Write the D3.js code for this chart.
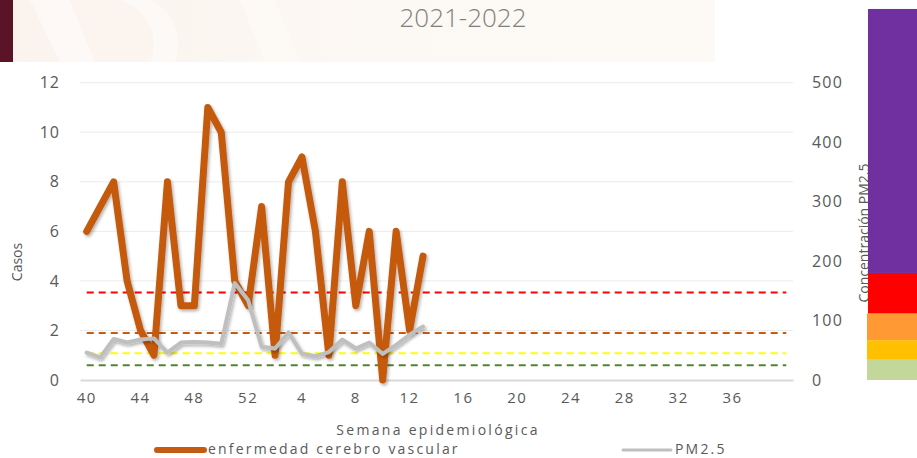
<!DOCTYPE html>
<html>
<head>
<meta charset="utf-8">
<script src="https://cdn.jsdelivr.net/npm/d3@7/dist/d3.min.js"></script>
<style>
  html, body { margin: 0; padding: 0; background: #ffffff; }
  svg { display: block; }
  text { font-family: "Open Sans", "Lato", sans-serif; fill: #595959; }
</style>
</head>
<body>
<svg id="chart" width="917" height="458"></svg>
<script>
// Epidemiological weeks of the 2021-2022 season (week 40 of 2021 onward)
const weeks = [40, 41, 42, 43, 44, 45, 46, 47, 48, 49, 50, 51, 52,
  1, 2, 3, 4, 5, 6, 7, 8, 9, 10, 11, 12, 13, 14, 15, 16, 17, 18, 19, 20,
  21, 22, 23, 24, 25, 26, 27, 28, 29, 30, 31, 32, 33, 34, 35, 36, 37, 38, 39, 40];
const tickWeeks = [40, 44, 48, 52, 4, 8, 12, 16, 20, 24, 28, 32, 36];

// Weekly cases of cerebrovascular disease (left axis)
const casos = [6, 7, 8, 4, 2, 1, 8, 3, 3, 11, 10, 4, 3,
  7, 1, 8, 9, 6, 1, 8, 3, 6, 0, 6, 2, 5];

// Weekly PM2.5 concentration (right axis)
const pm25 = [46, 38, 69, 63, 68, 70, 46, 63, 64, 63, 61, 163, 134,
  56, 53, 80, 44, 40, 47, 68, 53, 63, 44, 59, 76, 90];

// Air quality thresholds for PM2.5 (dashed reference lines)
const thresholdValues = [147, 79, 45, 25];
const thresholdColors = ["#FF0000", "#C55A11", "#FFFF00", "#548235"];

// Air quality colour scale drawn at the right edge
const bandTops = [34, 67, 112, 180, 624];
const bandColors = ["#C4D79B", "#FFC000", "#FF9933", "#FF0000", "#7030A0"];

const leftTicks = [0, 2, 4, 6, 8, 10, 12];
const rightTicks = [0, 100, 200, 300, 400, 500];

const svg = d3.select("#chart");

// Decorative header band
const defs = svg.append("defs");
const hg = defs.append("linearGradient").attr("id", "hdr").attr("x1", 0).attr("x2", 1);
hg.append("stop").attr("offset", 0).attr("stop-color", "#fbf3ee");
hg.append("stop").attr("offset", 0.5).attr("stop-color", "#fcf8f3");
hg.append("stop").attr("offset", 1).attr("stop-color", "#fdfaf6");
svg.append("rect").attr("x", 13).attr("y", 0).attr("width", 702).attr("height", 62).attr("fill", "url(#hdr)");
svg.append("path").attr("d", "M30,0 L70,0 L95,62 L60,62 Z").attr("fill", "#ffffff").attr("opacity", 0.45);
svg.append("path").attr("d", "M120,0 C150,10 160,40 150,62 L175,62 C185,35 170,8 150,0 Z").attr("fill", "#ffffff").attr("opacity", 0.4);
svg.append("path").attr("d", "M240,0 L275,0 L300,62 L265,62 Z").attr("fill", "#ffffff").attr("opacity", 0.35);
svg.append("rect").attr("x", 0).attr("y", 0).attr("width", 13).attr("height", 62).attr("fill", "#5b1427");

svg.append("text").attr("x", 463).attr("y", 27).attr("text-anchor", "middle")
  .style("font-size", "26px").style("font-weight", 300).style("fill", "#7f7f7f")
  .text("2021-2022");

// Scales
const x = d3.scaleBand().domain(d3.range(weeks.length)).range([80, 793]);
const cx = i => x(i) + x.bandwidth() / 2;
const yL = d3.scaleLinear().domain([0, 12]).range([380, 82.7]);
const yR = d3.scaleLinear().domain([0, 500]).range([380, 82.7]);

// Gridlines
svg.append("g").selectAll("line").data(leftTicks.filter(d => d > 0)).join("line")
  .attr("x1", 80).attr("x2", 793)
  .attr("y1", d => yL(d)).attr("y2", d => yL(d))
  .attr("stroke", "#ebebeb").attr("stroke-width", 1);

// Left axis
const gL = svg.append("g").attr("transform", "translate(60,0)")
  .call(d3.axisLeft(yL).tickValues(leftTicks).tickSize(0).tickPadding(0).tickFormat(d3.format("d")));
gL.select(".domain").remove();
gL.selectAll("text").style("font-size", "16px").style("letter-spacing", "1px")
  .attr("font-family", null).attr("fill", "#595959");

// Right axis
const gR = svg.append("g").attr("transform", "translate(812,0)")
  .call(d3.axisRight(yR).tickValues(rightTicks).tickSize(0).tickPadding(0).tickFormat(d3.format("d")));
gR.select(".domain").remove();
gR.selectAll("text").style("font-size", "16px").style("letter-spacing", "1.2px")
  .attr("font-family", null).attr("fill", "#595959");

// Bottom axis
const tickIdx = weeks.map((w, i) => i).filter(i => i % 4 === 0 && i < 52);
const gB = svg.append("g").attr("transform", "translate(0,380)")
  .call(d3.axisBottom(x).tickValues(tickIdx).tickSize(0).tickPadding(0)
    .tickFormat((d, k) => tickWeeks[k]));
gB.select(".domain").attr("stroke", "#d9d9d9").attr("stroke-width", 2);
gB.selectAll("text").attr("dy", "1.55em").style("font-size", "15px").style("letter-spacing", "1.5px")
  .attr("font-family", null).attr("fill", "#595959");

// Axis titles
svg.append("text").attr("transform", "translate(22,262) rotate(-90)").attr("text-anchor", "middle")
  .style("font-size", "14px").text("Casos");
svg.append("text").attr("transform", "translate(869,233) rotate(-90)").attr("text-anchor", "middle")
  .style("font-size", "14px").text("Concentración PM2.5");
svg.append("text").attr("x", 438).attr("y", 435).attr("text-anchor", "middle")
  .style("font-size", "14px").style("letter-spacing", "2.3px").text("Semana epidemiológica");

// Threshold lines across the whole season
svg.append("g").selectAll("line").data(thresholdValues).join("line")
  .attr("x1", cx(0)).attr("x2", cx(weeks.length - 1))
  .attr("y1", d => yR(d)).attr("y2", d => yR(d))
  .attr("stroke", (d, i) => thresholdColors[i]).attr("stroke-width", 2)
  .attr("stroke-dasharray", "7,5");

// Drop shadow for the series lines
const f = defs.append("filter").attr("id", "shadow").attr("x", "-10%").attr("y", "-10%")
  .attr("width", "120%").attr("height", "130%");
f.append("feDropShadow").attr("dx", 1.5).attr("dy", 2).attr("stdDeviation", 1.5)
  .attr("flood-color", "#000").attr("flood-opacity", 0.3);

const lineL = d3.line().x((d, i) => cx(i)).y(d => yL(d));
const lineR = d3.line().x((d, i) => cx(i)).y(d => yR(d));

svg.append("path").datum(casos).attr("d", lineL)
  .attr("fill", "none").attr("stroke", "#C55A11").attr("stroke-width", 7)
  .attr("stroke-linejoin", "round").attr("stroke-linecap", "round")
  .attr("filter", "url(#shadow)");

svg.append("path").datum(pm25).attr("d", lineR)
  .attr("fill", "none").attr("stroke", "#BFBFBF").attr("stroke-width", 4)
  .attr("stroke-linejoin", "round").attr("stroke-linecap", "round")
  .attr("filter", "url(#shadow)");

// Colour scale bar
svg.append("g").selectAll("rect").data(bandTops).join("rect")
  .attr("x", (d, i) => i < 3 ? 867 : 868)
  .attr("y", d => yR(d))
  .attr("width", 60)
  .attr("height", (d, i) => yR(i === 0 ? 0 : bandTops[i - 1]) - yR(d))
  .attr("fill", (d, i) => bandColors[i]);

// Legend
const legend = svg.append("g");
legend.append("line").attr("x1", 157).attr("x2", 204).attr("y1", 450).attr("y2", 450)
  .attr("stroke", "#C55A11").attr("stroke-width", 6).attr("stroke-linecap", "round");
legend.append("text").attr("x", 208).attr("y", 454).style("font-size", "14px")
  .style("letter-spacing", "2.2px").text("enfermedad cerebro vascular");
legend.append("line").attr("x1", 623).attr("x2", 671).attr("y1", 450).attr("y2", 450)
  .attr("stroke", "#BFBFBF").attr("stroke-width", 3).attr("stroke-linecap", "round");
legend.append("text").attr("x", 675).attr("y", 454).style("font-size", "14px")
  .style("letter-spacing", "2.2px").text("PM2.5");
</script>
</body>
</html>
